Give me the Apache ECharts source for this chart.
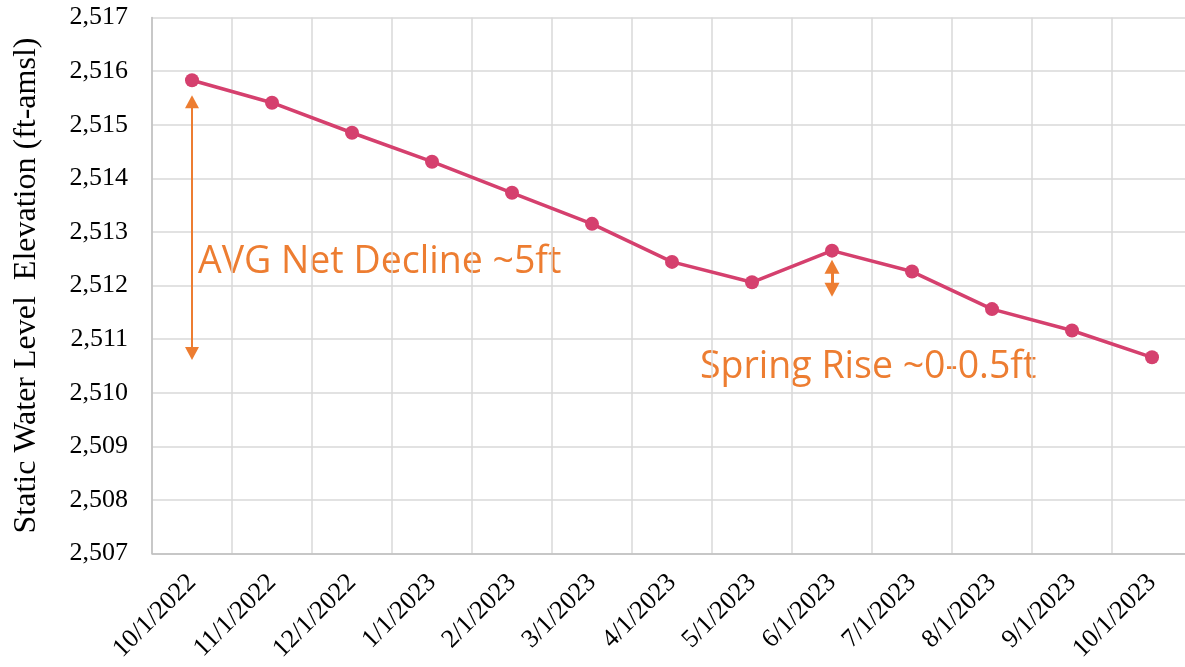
<!DOCTYPE html>
<html>
<head>
<meta charset="utf-8">
<script src="https://cdn.jsdelivr.net/npm/echarts@6/dist/echarts.min.js"></script>
<style>
  html, body { margin: 0; padding: 0; background: #fff; overflow: hidden; }
  #chart { width: 1200px; height: 667px; }
</style>
</head>
<body>
<div id="chart"></div>
<script>
// 水位数据
var dates = ['10/1/2022', '11/1/2022', '12/1/2022', '1/1/2023', '2/1/2023', '3/1/2023', '4/1/2023',
  '5/1/2023', '6/1/2023', '7/1/2023', '8/1/2023', '9/1/2023', '10/1/2023'];
var levels = [2515.83, 2515.41, 2514.85, 2514.31, 2513.73, 2513.15, 2512.44,
  2512.06, 2512.65, 2512.26, 2511.56, 2511.16, 2510.66];
var yTicks = [2507, 2508, 2509, 2510, 2511, 2512, 2513, 2514, 2515, 2516, 2517];

// 注释箭头（数据坐标）
var declineArrow = [2515.43, 2510.73];
var riseArrow = [2512.35, 2511.92];

var orange = '#ED7D31';
var myChart = echarts.init(document.getElementById('chart'));

var option = {
  animation: false,
  grid: { left: 152, top: 17.5, right: 8, bottom: 113.5 },
  xAxis: {
    type: 'category',
    data: dates,
    boundaryGap: true,
    axisLine: { lineStyle: { color: '#bfbfbf', width: 1.5 } },
    axisTick: { show: false },
    splitLine: { show: true, lineStyle: { color: '#d9d9d9', width: 1.5 } },
    axisLabel: {
      interval: 0,
      rotate: 45,
      margin: 25,
      color: '#000',
      fontFamily: 'Liberation Serif',
      fontSize: 26
    }
  },
  yAxis: {
    type: 'value',
    min: yTicks[0],
    max: yTicks[yTicks.length - 1],
    interval: 1,
    name: 'Static Water Level  Elevation (ft-amsl)',
    nameLocation: 'middle',
    nameGap: 109,
    nameTextStyle: { color: '#000', fontFamily: 'Liberation Serif', fontSize: 32 },
    axisLine: { show: true, lineStyle: { color: '#bfbfbf', width: 1.5 } },
    axisTick: { show: false },
    splitLine: { lineStyle: { color: '#d9d9d9', width: 1.5 } },
    axisLabel: {
      margin: 24,
      color: '#000',
      fontFamily: 'Liberation Serif',
      fontSize: 26,
      formatter: function (v) { return v.toLocaleString('en-US'); }
    }
  },
  series: [{
    type: 'line',
    data: levels,
    symbol: 'circle',
    symbolSize: 14,
    lineStyle: { color: '#D5406E', width: 3.5 },
    itemStyle: { color: '#D5406E' },
    markLine: {
      silent: true,
      symbol: ['triangle', 'triangle'],
      label: { show: false },
      data: [
        [
          { coord: [0, declineArrow[0]], symbolSize: [14, 13], lineStyle: { color: orange, width: 2, type: 'solid' } },
          { coord: [0, declineArrow[1]], symbolSize: [14, 13] }
        ],
        [
          { coord: [8, riseArrow[0]], symbolSize: [15, 14], lineStyle: { color: orange, width: 3, type: 'solid' } },
          { coord: [8, riseArrow[1]], symbolSize: [15, 14] }
        ]
      ]
    }
  }],
  graphic: [
    {
      type: 'text',
      x: 198, y: 262,
      style: { text: 'AVG Net Decline ~5ft', fill: orange, font: '37.5px "Open Sans"', verticalAlign: 'middle' }
    },
    {
      type: 'text',
      x: 700, y: 367,
      style: { text: 'Spring Rise ~0-0.5ft', fill: orange, font: '37.5px "Open Sans"', verticalAlign: 'middle' }
    }
  ]
};

myChart.setOption(option);
</script>
</body>
</html>
